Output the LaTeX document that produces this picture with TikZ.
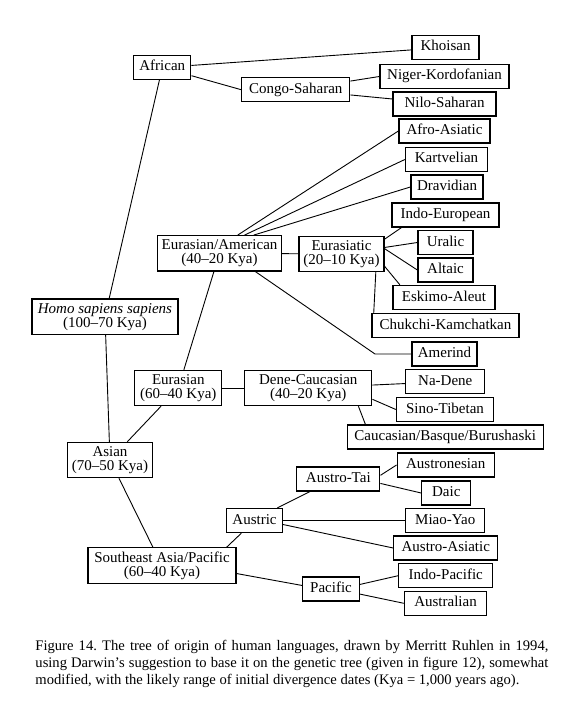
\documentclass[tikz,border=0pt]{standalone}
\usepackage{fontspec}
\setmainfont{Liberation Serif}

\begin{document}
\begin{tikzpicture}[
        x=1pt, y=-1pt,
        font=\fontsize{15}{14}\selectfont,
        box/.style = {draw, line width=1.3pt, inner xsep=3pt, inner ysep=4pt, minimum height=24pt, text height=10.5pt, text depth=3.5pt},
        datedbox/.style = {draw, line width=1.3pt, inner xsep=3pt, inner ysep=4pt, align=center},
        line width=0.9pt
    ]
    \useasboundingbox (0,0) rectangle (585,714);

    % the present families
    \node (khoisan)      at (445.5,47.5)  [box, minimum width=67pt]  {Khoisan};
    \node (niger)        at (444.5,76.5)  [box, minimum width=129pt] {Niger-Kordofanian};
    \node (nilo)         at (444.5,104)   [box, minimum width=103pt] {Nilo-Saharan};
    \node (afro)         at (444.5,131)   [box, minimum width=91pt]  {Afro-Asiatic};
    \node (kart)         at (446.5,159.5) [box, minimum width=82pt]  {Kartvelian};
    \node (drav)         at (447,187)     [box, minimum width=72pt]  {Dravidian};
    \node (ie)           at (445.5,215)   [box, minimum width=107pt] {Indo-European};
    \node (uralic)       at (445.5,242.5) [box, minimum width=55pt]  {Uralic};
    \node (altaic)       at (445.5,270)   [box, minimum width=55pt]  {Altaic};
    \node (eskimo)       at (444,297.5)   [box, minimum width=102pt] {Eskimo-Aleut};
    \node (chukchi)      at (445.5,325.5) [box, minimum width=147pt] {Chukchi-Kamchatkan};
    \node (amerind)      at (444.5,354)   [box, minimum width=65pt]  {Amerind};
    \node (nadene)       at (445.3,381.7) [box, minimum width=79pt]  {Na-Dene};
    \node (sino)         at (445,409.5)   [box, minimum width=97pt]  {Sino-Tibetan};
    \node (caucasian)    at (445.3,437)   [box, minimum width=196pt] {Caucasian/Basque/Burushaski};
    \node (austronesian) at (445.7,465)   [box, minimum width=97pt]  {Austronesian};
    \node (daic)         at (446.3,493)   [box, minimum width=49pt]  {Daic};
    \node (miaoyao)      at (445.3,520.5) [box, minimum width=79pt]  {Miao-Yao};
    \node (aa)           at (445.8,548)   [box, minimum width=104pt] {Austro-Asiatic};
    \node (indopacific)  at (445.8,575.7) [box, minimum width=94pt]  {Indo-Pacific};
    \node (australian)   at (445.5,603.3) [box, minimum width=82pt]  {Australian};

    % the older groups
    \node (african)    at (162.3,67.5)  [box, minimum width=57pt]  {African};
    \node (congo)      at (295.8,89.7)  [box, minimum width=108pt] {Congo-Saharan};
    \node (ea)         at (219.5,253.3) [datedbox, minimum width=124pt] {Eurasian/American\\(40--20 Kya)};
    \node (eurasiatic) at (341.5,254)   [datedbox, minimum width=85pt]  {Eurasiatic\\(20--10 Kya)};
    \node (homo)       at (105,316.7)   [datedbox, minimum width=146pt] {\textit{Homo sapiens sapiens}\\(100--70 Kya)};
    \node (eurasian)   at (178.3,388)   [datedbox, minimum width=87pt]  {Eurasian\\(60--40 Kya)};
    \node (dene)       at (308.3,388)   [datedbox, minimum width=127pt] {Dene-Caucasian\\(40--20 Kya)};
    \node (asian)      at (110,460)     [datedbox, minimum width=85pt]  {Asian\\(70--50 Kya)};
    \node (austrotai)  at (338.3,479)   [box, minimum width=83pt]  {Austro-Tai};
    \node (austric)    at (254.5,520.5) [box, minimum width=56pt]  {Austric};
    \node (se)         at (162,565.7)   [datedbox, minimum width=148pt] {Southeast Asia/Pacific\\(60--40 Kya)};
    \node (pacific)    at (331,589)     [box, minimum width=57pt]  {Pacific};
    \coordinate (amerindbend) at (375,354);

    \draw (african) -- (khoisan);
    \draw (african) -- (congo.west);
    \draw (congo) -- (niger.west);
    \draw (congo) -- (nilo);
    \draw (african) -- (homo);
    \draw (homo) -- (asian);

    \draw (ea.45) -- (afro.west);
    \draw (ea.36) -- (kart.west);
    \draw (ea.28) -- (drav.west);
    \draw (ea) -- (eurasiatic);
    \draw (eurasiatic.19) -- (ie.-164);
    \draw (eurasiatic) -- (uralic.west);
    \draw (eurasiatic.7) -- (altaic.west);
    \draw (eurasiatic.-16) -- (eskimo.164);
    \draw (eurasiatic.-28) -- (chukchi.170);
    \draw (ea.-27) -- (amerindbend) -- (amerind.west);
    \draw (ea) -- (eurasian);

    \draw (eurasian) -- (dene);
    \draw (dene) -- (nadene);
    \draw (dene.-10) -- (sino.west);
    \draw (dene.-20) -- (caucasian.171.5);
    \draw (eurasian) -- (asian);

    \draw (asian) -- (se);
    \draw (se.16.5) -- (austric.-136);
    \draw (austric.29) -- (austrotai.-156);
    \draw (austrotai.5) -- (austronesian.west);
    \draw (austrotai.-6) -- (daic.west);
    \draw (austric) -- (miaoyao);
    \draw (austric.-8) -- (aa.west);
    \draw (se.-6) -- (pacific.173);
    \draw (pacific.9) -- (indopacific.west);
    \draw (pacific.-10) -- (australian.west);

    \node (caption) at (35,640) [anchor=north west, inner sep=0pt, text width=513pt, align=justify,
        font=\fontsize{14.6}{17}\selectfont\frenchspacing]
        {Figure 14. The tree of origin of human languages, drawn by Merritt Ruhlen in 1994,\linebreak
         using Darwin's suggestion to base it on the genetic tree (given in figure 12), somewhat\linebreak
         modified, with the likely range of initial divergence dates (Kya = 1,000 years ago).};
\end{tikzpicture}
\end{document}
